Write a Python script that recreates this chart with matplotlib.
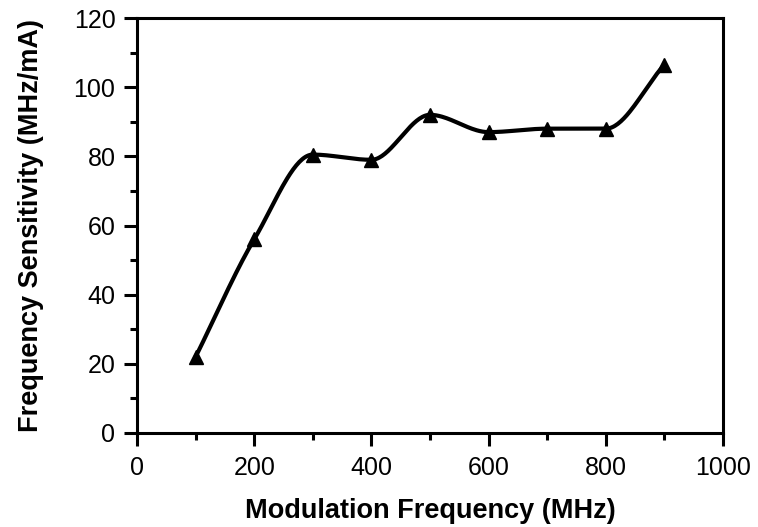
import numpy as np
import matplotlib
matplotlib.use("Agg")
import matplotlib.pyplot as plt
from matplotlib.ticker import MultipleLocator

freq = [100, 200, 300, 400, 500, 600, 700, 800, 900]
sens = [22, 56, 80.5, 79, 92, 87, 88, 88, 106.5]

def pchip(xs, ys, n=40):
    x = np.asarray(xs, float); y = np.asarray(ys, float)
    h = np.diff(x); d = np.diff(y) / h
    m = np.zeros_like(y)
    for k in range(1, len(x) - 1):
        if d[k-1] * d[k] > 0:
            w1 = 2*h[k] + h[k-1]; w2 = h[k] + 2*h[k-1]
            m[k] = (w1 + w2) / (w1/d[k-1] + w2/d[k])
    m[0] = d[0]; m[-1] = d[-1]
    ox, oy = [], []
    for k in range(len(x) - 1):
        t = np.linspace(0, 1, n)
        h00 = 2*t**3 - 3*t**2 + 1; h10 = t**3 - 2*t**2 + t
        h01 = -2*t**3 + 3*t**2; h11 = t**3 - t**2
        ox.extend(x[k] + t*h[k])
        oy.extend(h00*y[k] + h10*h[k]*m[k] + h01*y[k+1] + h11*h[k]*m[k+1])
    return np.array(ox), np.array(oy)

plt.rcParams['font.family'] = ['Liberation Sans', 'DejaVu Sans']

fig = plt.figure(figsize=(7.58, 5.27), dpi=100)
ax = fig.add_axes([137/758, 1-433/527, (723-137)/758, (433-18)/527])

sx, sy = pchip(freq, sens)
ax.plot(sx, sy, color='black', lw=3.0, solid_capstyle='round', solid_joinstyle='round')
ax.plot(freq, sens, linestyle='none', marker='^', color='black', markersize=10)

ax.set_xlim(0, 1000)
ax.set_ylim(0, 120)
ax.xaxis.set_major_locator(MultipleLocator(200))
ax.xaxis.set_minor_locator(MultipleLocator(100))
ax.yaxis.set_major_locator(MultipleLocator(20))
ax.yaxis.set_minor_locator(MultipleLocator(10))
ax.tick_params(which='major', direction='out', length=9.5, width=2.2, labelsize=18, pad=6)
ax.tick_params(axis='x', which='major', pad=7)
ax.tick_params(which='minor', direction='out', length=5, width=2.2)
for s in ax.spines.values():
    s.set_linewidth(2.2)

ax.set_xlabel('Modulation Frequency (MHz)', fontsize=19.5, fontweight='bold', labelpad=13)
ax.set_ylabel('Frequency Sensitivity (MHz/mA)', fontsize=19.5, fontweight='bold', labelpad=21)

fig.savefig('out.png', dpi=100)
